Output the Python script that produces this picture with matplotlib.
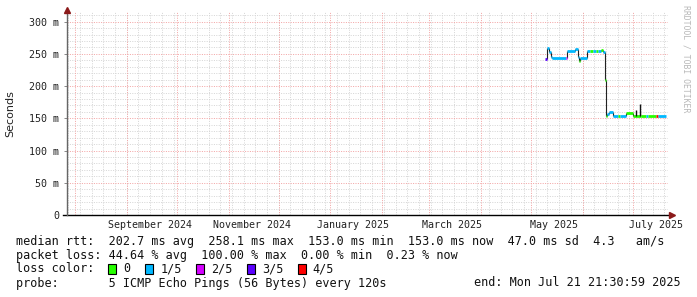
import matplotlib
matplotlib.use("Agg")
import matplotlib.pyplot as plt
import matplotlib.dates as mdates
import pandas as pd
import numpy as np

# ---------------- data ----------------
seg_start = ["2025-05-10 00:00", "2025-05-11 05:00", "2025-05-12 10:00", "2025-05-13 07:00",
             "2025-05-13 22:00", "2025-05-22 07:00", "2025-05-23 05:00", "2025-05-28 00:00",
             "2025-05-29 05:00", "2025-05-30 02:00", "2025-05-30 14:00", "2025-06-04 02:00",
             "2025-06-05 14:00", "2025-06-07 10:00", "2025-06-09 05:00", "2025-06-10 10:00",
             "2025-06-12 05:00", "2025-06-13 17:00", "2025-06-14 14:00", "2025-06-15 02:00",
             "2025-06-16 02:00", "2025-06-17 00:00", "2025-06-19 17:00", "2025-06-22 10:00",
             "2025-06-23 14:00", "2025-06-27 05:00", "2025-07-01 17:00", "2025-07-06 05:00",
             "2025-07-09 05:00", "2025-07-10 10:00", "2025-07-15 12:00", "2025-07-16 17:00"]
seg_end_last = "2025-07-21 12:00"
median_ms = [242, 259, 253, 245, 243, 243, 254, 258, 245, 239, 243, 254,
             254, 254, 254, 254, 256, 253, 209, 154, 157, 160, 154, 154,
             154, 159, 154, 154, 154, 154, 154, 154]
loss_idx = [3, 1, 1, 1, 1, 2, 1, 1, 1, 0, 1, 1,
            0, 1, 0, 1, 0, 1, 0, 0, 1, 1, 1, 0,
            1, 0, 0, 0, 1, 0, 4, 1]
spike_time = ["2025-07-03 05:00", "2025-07-05 22:00"]
spike_low = [154, 154]
spike_high = [163, 172]

loss_colors = ["#26ff00", "#00b8ff", "#d400ff", "#5a00ff", "#ff0000"]
loss_labels = ["0", "1/5", "2/5", "3/5", "4/5"]

x_start = pd.Timestamp("2024-07-27 05:00")
x_end = pd.Timestamp("2025-07-22 10:00")
y_max = 315
y_ticks = [0, 50, 100, 150, 200, 250, 300]
x_label_months = ["2024-09-15", "2024-11-15", "2025-01-15", "2025-03-15", "2025-05-15", "2025-07-15"]
x_label_text = ["September 2024", "November 2024", "January 2025", "March 2025", "May 2025", "July 2025"]

stats_lines = [
    "median rtt:  202.7 ms avg  258.1 ms max  153.0 ms min  153.0 ms now  47.0 ms sd  4.3   am/s",
    "packet loss: 44.64 % avg  100.00 % max  0.00 % min  0.23 % now",
]
probe_text = "probe:       5 ICMP Echo Pings (56 Bytes) every 120s"
end_text = "end: Mon Jul 21 21:30:59 2025"

# ---------------- figure ----------------
W, H = 697, 297
fig = plt.figure(figsize=(W / 100, H / 100), dpi=100)
fig.patch.set_facecolor("white")

def fx(px):
    return px / W

def fy(py):
    return 1 - py / H

left_px, right_px, top_px, bot_px = 66.7, 668.0, 12.0, 215.0
ax = fig.add_axes([fx(left_px), fy(bot_px), fx(right_px) - fx(left_px), fy(top_px) - fy(bot_px)])
ax.set_facecolor("white")
for s in ax.spines.values():
    s.set_visible(False)

xs = mdates.date2num(x_start)
xe = mdates.date2num(x_end)
ax.set_xlim(xs, xe)
ax.set_ylim(0, y_max)

dot = (0, (1, 1.4))
lw1 = 0.72
minor_c = "#d6d6d6"
major_c = "#f3a6a6"
# minor horizontal grid every 10 ms
for v in range(10, y_max + 1, 10):
    if v % 50 != 0:
        ax.axhline(v, color=minor_c, lw=lw1, ls=dot, zorder=1)
# minor vertical grid (weekly, Sundays)
weeks = pd.date_range(x_start, x_end, freq="W-SUN")
for d in weeks:
    ax.axvline(mdates.date2num(d), color=minor_c, lw=lw1, ls=dot, zorder=1)
# major grid
for v in y_ticks[1:]:
    ax.axhline(v, color=major_c, lw=lw1, ls=dot, zorder=2)
months = pd.date_range(x_start, x_end, freq="MS")
for d in months:
    ax.axvline(mdates.date2num(d), color=major_c, lw=lw1, ls=dot, zorder=2)

# ---------------- data drawing ----------------
t = [mdates.date2num(pd.Timestamp(s)) for s in seg_start] + [mdates.date2num(pd.Timestamp(seg_end_last))]
for i in range(1, len(median_ms)):
    ax.vlines(t[i], min(median_ms[i - 1], median_ms[i]), max(median_ms[i - 1], median_ms[i]),
              color="#222222", lw=0.8, zorder=4)
for i in range(len(median_ms)):
    ax.hlines(median_ms[i], t[i], t[i + 1], color=loss_colors[loss_idx[i]], lw=2.0, zorder=5)
for st, lo, hi in zip(spike_time, spike_low, spike_high):
    ax.vlines(mdates.date2num(pd.Timestamp(st)), lo, hi, color="#111111", lw=1.0, zorder=6)

# ---------------- axes ----------------
mono = "DejaVu Sans Mono"
ax.set_yticks(y_ticks)
ax.set_yticklabels(["0" if v == 0 else f"{v} m" for v in y_ticks], fontfamily=mono, fontsize=7.2, color="#222222")
ax.tick_params(axis="y", length=2.5, width=0.7, color="#888888", pad=3)
ax.set_xticks([mdates.date2num(pd.Timestamp(d)) for d in x_label_months])
ax.set_xticklabels(x_label_text, fontfamily=mono, fontsize=7.2, color="#222222")
ax.tick_params(axis="x", length=0, pad=3.5)

# axis lines and arrows
ax.plot([-0.006, 1.004], [0, 0], transform=ax.transAxes, color="black", lw=1.0, clip_on=False, zorder=7)
ax.plot([0, 0], [0, 1.0], transform=ax.transAxes, color="#666666", lw=1.0, clip_on=False, zorder=7)
ax.plot([1.006], [0], transform=ax.transAxes, marker=">", color="#8b1a1a", ms=4, clip_on=False, zorder=8)
ax.plot([0], [1.01], transform=ax.transAxes, marker="^", color="#8b1a1a", ms=4, clip_on=False, zorder=8)

fig.text(fx(10), fy(114), "Seconds", rotation=90, ha="center", va="center",
         fontfamily="DejaVu Sans", fontsize=8, color="#222222")
fig.text(fx(686), fy(5), "RRDTOOL / TOBI OETIKER", rotation=270, ha="center", va="top",
         fontfamily=mono, fontsize=5.9, color="#b8b8b8")

# ---------------- legend text ----------------
fs = 8.5
rows_y = [241, 255, 269, 283]
for line, y in zip(stats_lines, rows_y[:2]):
    fig.text(fx(16), fy(y), line, fontfamily=mono, fontsize=fs, va="center", ha="left", color="#111111")
fig.text(fx(16), fy(rows_y[2]), "loss color:", fontfamily=mono, fontsize=fs, va="center", ha="left", color="#111111")
box_x = [108.3, 145.3, 196.0, 246.7, 297.8]
for bx, c, lab in zip(box_x, loss_colors, loss_labels):
    fig.patches.append(plt.Rectangle((fx(bx), fy(rows_y[2] + 5)), 8 / W, 10 / H, transform=fig.transFigure,
                                     facecolor=c, edgecolor="black", lw=0.8))
    fig.text(fx(bx + 15), fy(rows_y[2]), lab, fontfamily=mono, fontsize=fs, va="center", ha="left", color="#111111")
fig.text(fx(16), fy(rows_y[3]), probe_text, fontfamily=mono, fontsize=fs, va="center", ha="left", color="#111111")
fig.text(fx(681), fy(rows_y[3]), end_text, fontfamily=mono, fontsize=fs, va="center", ha="right", color="#111111")

fig.savefig("out.png", dpi=100, facecolor="white")
